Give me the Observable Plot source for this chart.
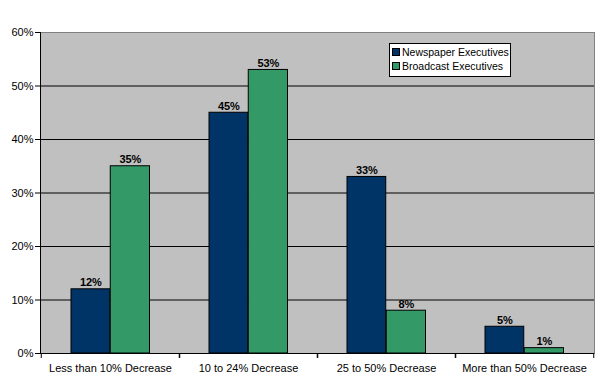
<!DOCTYPE html>
<html><head><meta charset="utf-8">
<script src="https://cdn.jsdelivr.net/npm/d3@7"></script>
<script src="https://cdn.jsdelivr.net/npm/@observablehq/plot@0.6"></script>
<style>
body{margin:0;background:#fff;font-family:"Liberation Sans",Arial,sans-serif}
#wrap{position:relative;width:600px;height:387px}
.legend{position:absolute;left:389px;top:43px;width:120px;height:31px;background:#fff;border:1px solid #000;font-size:10.5px;line-height:14px;padding-top:1px;box-sizing:content-box;white-space:nowrap;overflow:hidden}
.legend div{display:flex;align-items:center;height:14px;padding-left:2px}
.legend span.sw{display:inline-block;flex:none;width:6px;height:6px;border:1px solid #000;margin-right:2px}
</style></head>
<body><div id="wrap"></div>
<script>
const categories = ["Less than 10% Decrease","10 to 24% Decrease","25 to 50% Decrease","More than 50% Decrease"];
const seriesNames = ["Newspaper Executives","Broadcast Executives"];
const newspaper = [12,45,33,5];
const broadcast = [35,53,8,1];
const yTicks = [0,10,20,30,40,50,60];
const colors = ["#003366","#339966"];

const newsRows = categories.map((c,i)=>({category:c, value:newspaper[i]}));
const broadRows = categories.map((c,i)=>({category:c, value:broadcast[i]}));

const W=600,H=387,ML=40,MR=6,MT=32,MB=34;
const step=(W-ML-MR)/categories.length;
const font='"Liberation Sans",Arial,sans-serif';

const chart = Plot.plot({
  width:W,height:H,marginLeft:ML,marginRight:MR,marginTop:MT,marginBottom:MB,
  x:{domain:categories,padding:0},
  y:{domain:[0,60]},
  style:{fontFamily:font,fontSize:"11px",background:"#fff",color:"#000"},
  marks:[
    Plot.frame({fill:"#c0c0c0",stroke:null}),
    Plot.gridY(yTicks,{stroke:"#000",strokeOpacity:1}),
    Plot.frame({anchor:"top",stroke:"#808080"}),
    Plot.frame({anchor:"right",stroke:"#808080"}),
    Plot.barY(newsRows,{x:"category",y:"value",fill:colors[0],stroke:"#000",insetLeft:30,insetRight:69.25}),
    Plot.barY(broadRows,{x:"category",y:"value",fill:colors[1],stroke:"#000",insetLeft:69.25,insetRight:29.5}),
    Plot.text(newsRows,{x:"category",y:"value",text:d=>d.value+"%",dx:-19.6,dy:-3,lineAnchor:"bottom",fontWeight:"bold",fill:"#000"}),
    Plot.text(broadRows,{x:"category",y:"value",text:d=>d.value+"%",dx:19.9,dy:-3,lineAnchor:"bottom",fontWeight:"bold",fill:"#000"}),
    Plot.frame({anchor:"left",stroke:"#000"}),
    Plot.ruleY([0],{stroke:"#000"}),
    Plot.axisY({ticks:yTicks,tickFormat:d=>d+"%",tickSize:5,tickPadding:2,label:null}),
    Plot.axisX({tickFormat:()=>"",tickSize:5,dx:-step/2,label:null}),
    Plot.axisX({tickFormat:()=>"",tickSize:5,dx:step/2,label:null}),
    Plot.axisX({tickSize:0,tickPadding:11,label:null})
  ]
});
const wrap=document.getElementById("wrap");
wrap.appendChild(chart);
const leg=document.createElement("div");
leg.className="legend";
seriesNames.forEach((s,i)=>{
  const r=document.createElement("div");
  const sw=document.createElement("span");sw.className="sw";sw.style.background=colors[i];
  r.appendChild(sw);r.appendChild(document.createTextNode(s));
  leg.appendChild(r);
});
wrap.appendChild(leg);
</script></body></html>
